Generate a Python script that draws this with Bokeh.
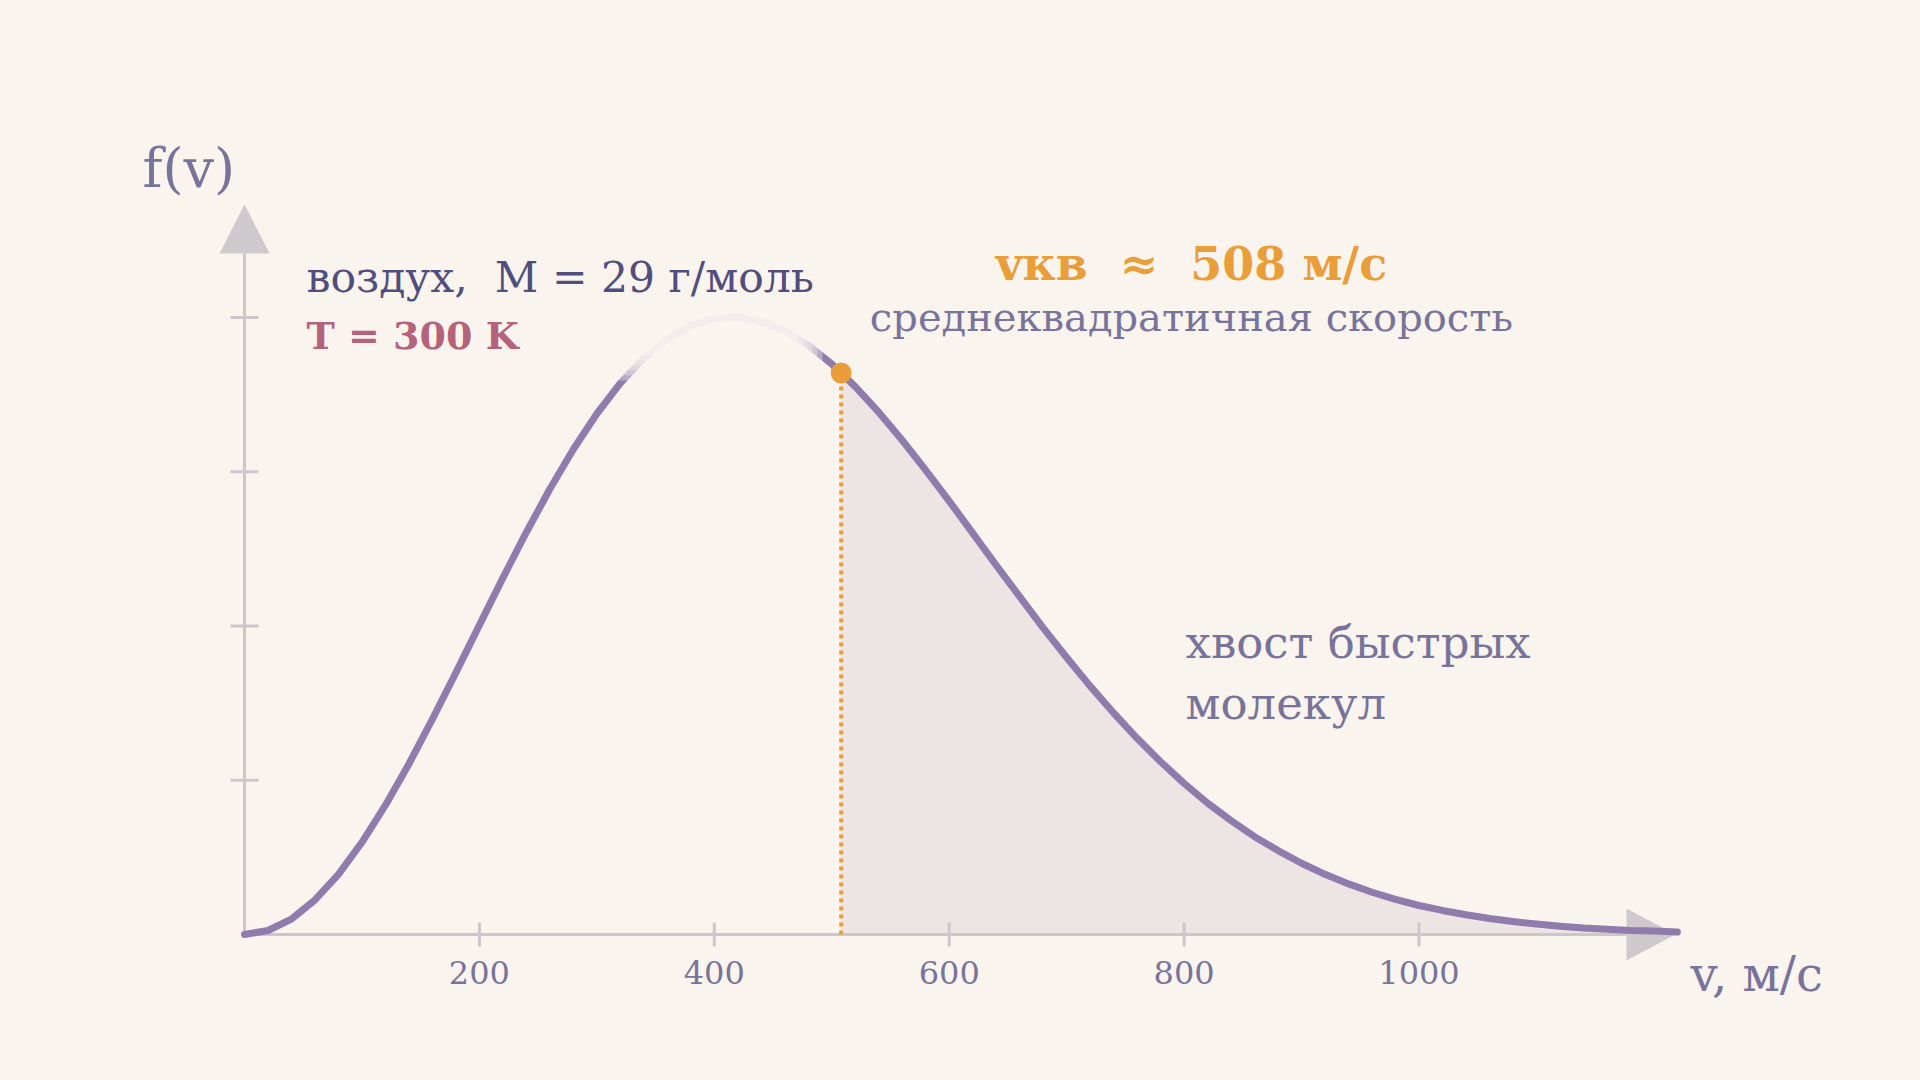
from bokeh.plotting import figure
from bokeh.core.properties import value
from bokeh.embed import file_html
from bokeh.resources import INLINE

# распределение Максвелла для воздуха, T = 300 K
# скорость, м/с
speed = [0, 20, 40, 60, 80, 100, 120, 140, 160, 180, 200, 220, 240, 260, 280,
         300, 320, 340, 360, 380, 400, 420, 440, 460, 480, 500, 520, 540, 560,
         580, 600, 620, 640, 660, 680, 700, 720, 740, 760, 780, 800, 820, 840,
         860, 880, 900, 920, 940, 960, 980, 1000, 1020, 1040, 1060, 1080, 1100,
         1120, 1140, 1160, 1180, 1200, 1220]
# f(v), 10^-3 с/м
density = [0.000, 0.013, 0.050, 0.112, 0.195, 0.299, 0.419, 0.553, 0.698, 0.849,
           1.003, 1.156, 1.304, 1.444, 1.573, 1.688, 1.787, 1.868, 1.930, 1.973,
           1.997, 2.001, 1.987, 1.956, 1.910, 1.849, 1.776, 1.693, 1.602, 1.505,
           1.405, 1.301, 1.197, 1.095, 0.994, 0.898, 0.805, 0.718, 0.636, 0.560,
           0.490, 0.426, 0.369, 0.317, 0.272, 0.231, 0.195, 0.164, 0.137, 0.114,
           0.094, 0.078, 0.064, 0.052, 0.042, 0.034, 0.027, 0.021, 0.017, 0.013,
           0.011, 0.008]

v_rms = 508
f_rms = 1.82

x_ticks = [200, 400, 600, 800, 1000]
x_tick_labels = ["200", "400", "600", "800", "1000"]
y_ticks = [0.5, 1.0, 1.5, 2.0]

BG = "#faf4ee"
CURVE = "#8f7bac"
TAIL = "#ede5e4"
ORANGE = "#e99e3a"
AXIS = "#ccc7cb"
ARROW = "#cdc9cd"
DARK = "#514d7d"
GREY = "#77739a"
ROSE = "#b5627c"
FONT = value("DejaVu Serif")
NB = "\u00a0"

# масштаб: пикселей на единицу данных
W, H = 1904, 1064
PX_V = 1.1745
PX_F = 308.5
X0, Y0 = 244, 934   # положение начала координат внутри рисунка


def dx(px):
    return px / PX_V


def dy(px):
    return px / PX_F


x_lo, x_hi = -dx(X0), dx(W - X0)
y_lo, y_hi = -dy(H - Y0), dy(Y0)

p = figure(width=W, height=H, x_range=(x_lo, x_hi), y_range=(y_lo, y_hi),
           output_backend="svg", toolbar_location=None, min_border=0,
           x_axis_location=None, y_axis_location=None, tools="")
p.grid.visible = False
p.outline_line_color = None
p.background_fill_color = BG
p.border_fill_color = BG

# хвост распределения после vкв
tail_v = [v_rms] + [v for v in speed if v > v_rms]
tail_f = [f_rms] + [f for v, f in zip(speed, density) if v > v_rms]
p.varea(x=tail_v, y1=[0] * len(tail_v), y2=tail_f, fill_color=TAIL)

# оси со стрелками
y_top = dy(681)
x_end = dx(1382)
p.segment(x0=[0, 0], y0=[0, 0], x1=[x_end, 0], y1=[0, y_top],
          line_color=AXIS, line_width=3)
p.segment(x0=x_ticks, y0=[-dy(12)] * len(x_ticks), x1=x_ticks, y1=[dy(12)] * len(x_ticks),
          line_color=AXIS, line_width=3)
p.segment(x0=[-dx(14)] * len(y_ticks), y0=y_ticks, x1=[dx(14)] * len(y_ticks), y1=y_ticks,
          line_color=AXIS, line_width=3)
p.patch(x=[-dx(25), dx(25), 0], y=[y_top, y_top, y_top + dy(49)], fill_color=ARROW, line_color=None)
p.patch(x=[x_end, x_end, x_end + dx(49)], y=[-dy(26), dy(26), 0], fill_color=ARROW, line_color=None)

p.text(x=x_ticks, y=[-dy(38)] * len(x_ticks), text=x_tick_labels, text_font=FONT,
       text_font_size="32px", text_color=GREY, text_align="center", text_baseline="middle")

# линия vкв
p.segment(x0=[v_rms], y0=[0], x1=[v_rms], y1=[f_rms], line_color=ORANGE,
          line_width=4, line_dash="4 4")

p.line(speed, density, line_color=CURVE, line_width=7, line_join="round", line_cap="round")

# мягкая подложка под подписью
bx0, bx1 = dx(290 - 244), dx(822 - 244)
by0, by1 = dy(934 - 380), dy(934 - 225)
for k in range(6):
    p.quad(left=bx0 + dx(5 * k), right=bx1 - dx(5 * k), bottom=by0 + dy(5 * k), top=by1 - dy(5 * k),
           fill_color=BG, fill_alpha=0.38, line_color=None)

p.scatter([v_rms], [f_rms], size=21, fill_color=ORANGE, line_color=None)

# подписи
p.text(x=[-dx(102)], y=[dy(766)], text=["f(v)"], text_font=FONT, text_font_size="54px",
       text_color=GREY, text_baseline="middle")
p.text(x=[dx(1446)], y=[-dy(39)], text=["v, м/с"], text_font=FONT, text_font_size="48px",
       text_color=GREY, text_baseline="middle")
p.text(x=[dx(62)], y=[dy(657)], text=["воздух," + NB + " M = 29 г/моль"], text_font=FONT,
       text_font_size="42.5px", text_color=DARK, text_baseline="middle")
p.text(x=[dx(62)], y=[dy(599)], text=["T = 300 K"], text_font=FONT, text_font_size="38px",
       text_font_style="bold", text_color=ROSE, text_baseline="middle")
p.text(x=[dx(947)], y=[dy(671)], text=["vкв" + NB + " ≈" + NB + " 508 м/с"], text_font=FONT,
       text_font_size="46px", text_font_style="bold", text_color=ORANGE,
       text_align="center", text_baseline="middle")
p.text(x=[dx(947)], y=[dy(618)], text=["среднеквадратичная скорость"], text_font=FONT,
       text_font_size="40px", text_color=GREY, text_align="center", text_baseline="middle")
p.text(x=[dx(941)] * 2, y=[dy(292), dy(231)], text=["хвост быстрых", "молекул"],
       text_font=FONT, text_font_size="45px", text_color=GREY, text_baseline="middle")

html = file_html(p, INLINE, title="Распределение Максвелла")
html = html.replace("</head>", "<style>html, body { background: %s; }</style></head>" % BG, 1)
open("out.html", "w").write(html)
